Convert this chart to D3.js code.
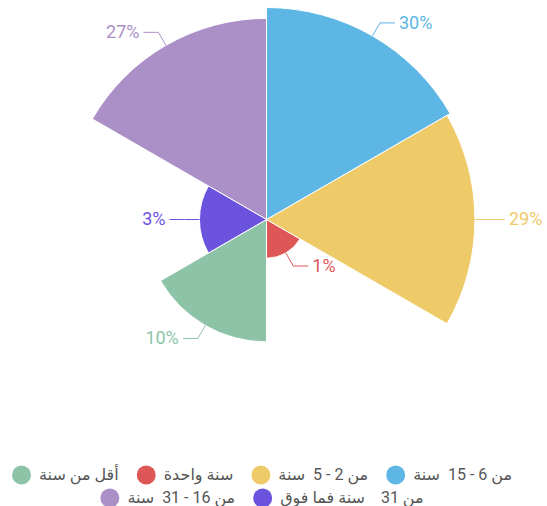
<!DOCTYPE html>
<html>
<head>
<meta charset="utf-8">
<script src="https://cdn.jsdelivr.net/npm/d3@7"></script>
<style>
  body { margin: 0; background: #fff; }
  svg { display: block; font-family: Roboto, "Noto Sans", "DejaVu Sans", sans-serif; }
  .legend text { white-space: pre; }
</style>
</head>
<body>
<svg id="chart" width="547" height="506"></svg>
<script>
// categories in legend order
const categories = ['أقل من سنة', 'سنة واحدة', 'من 2 - 5  سنة', 'من 6 - 15  سنة', 'من 16 - 31  سنة', 'من 31    سنة فما فوق']
const values = [10, 1, 29, 30, 27, 3]
const colors = ['#8dc4a8', '#de5757', '#efca69', '#5db6e4', '#ab90c7', '#6c53de']

const cx = 266.5
const cy = 219.5

const svg = d3.select('#chart')
const g = svg.append('g').attr('transform', `translate(${cx},${cy})`)

const rScale = d3.scaleSqrt().domain([0, 30]).range([0, 212])

// drawn counter-clockwise from 240deg
const pie = d3.pie()
  .sort(null)
  .value(() => 1)
  .startAngle(240 * Math.PI / 180)
  .endAngle(-120 * Math.PI / 180)

const arcs = pie(values)

const arc = d3.arc()
  .innerRadius(0)
  .outerRadius(d => rScale(d.data))

g.selectAll('path.slice')
  .data(arcs)
  .join('path')
  .attr('class', 'slice')
  .attr('d', arc)
  .attr('fill', (d, i) => colors[i])
  .attr('stroke', '#fff')
  .attr('stroke-width', 1)

//
const len1 = 15
const len2 = 15
arcs.forEach((d, i) => {
  const a = (d.startAngle + d.endAngle) / 2
  const r = rScale(d.data)
  const sx = Math.sin(a)
  const sy = -Math.cos(a)
  const p0 = [sx * r, sy * r]
  const p1 = [sx * (r + len1), sy * (r + len1)]
  const right = sx > 0.0001
  const dir = right ? 1 : -1
  const p2 = [p1[0] + dir * len2, p1[1]]
  g.append('path')
    .attr('d', d3.line()([p0, p1, p2]))
    .attr('fill', 'none')
    .attr('stroke', colors[i])
    .attr('stroke-width', 1)
  g.append('text')
    .attr('x', p2[0] + dir * 4)
    .attr('y', p2[1] + 1)
    .attr('text-anchor', right ? 'start' : 'end')
    .attr('dominant-baseline', 'middle')
    .attr('font-size', 18)
    .attr('fill', colors[i])
    .text(d3.format('d')(d.data) + '%')
})

// legend
const legend = svg.append('g').attr('class', 'legend')
const iconR = 9.5
const iconGap = 8
const itemGap = 18
const maxRow = 520
const legendCx = 262
const rowY = [475, 498]

const items = categories.map((c, i) => {
  const t = legend.append('text')
    .attr('font-size', 16)
    .attr('fill', '#555')
    .attr('dominant-baseline', 'middle')
    .text(c)
  const w = t.node().getComputedTextLength()
  return { t, w, i, total: iconR * 2 + iconGap + w }
})

const rows = [[]]
let cur = 0
items.forEach(it => {
  const add = (rows[rows.length - 1].length ? itemGap : 0) + it.total
  if (cur + add > maxRow && rows[rows.length - 1].length) {
    rows.push([it])
    cur = it.total
  } else {
    rows[rows.length - 1].push(it)
    cur += add
  }
})

rows.forEach((row, ri) => {
  const total = d3.sum(row, d => d.total) + itemGap * (row.length - 1)
  let x = legendCx - total / 2
  const y = rowY[ri] || rowY[0] + ri * 23
  row.forEach(it => {
    legend.append('circle')
      .attr('cx', x + iconR)
      .attr('cy', y)
      .attr('r', iconR)
      .attr('fill', colors[it.i])
    it.t.attr('x', x + iconR * 2 + iconGap).attr('y', y + 1)
    x += it.total + itemGap
  })
})
</script>
</body>
</html>
